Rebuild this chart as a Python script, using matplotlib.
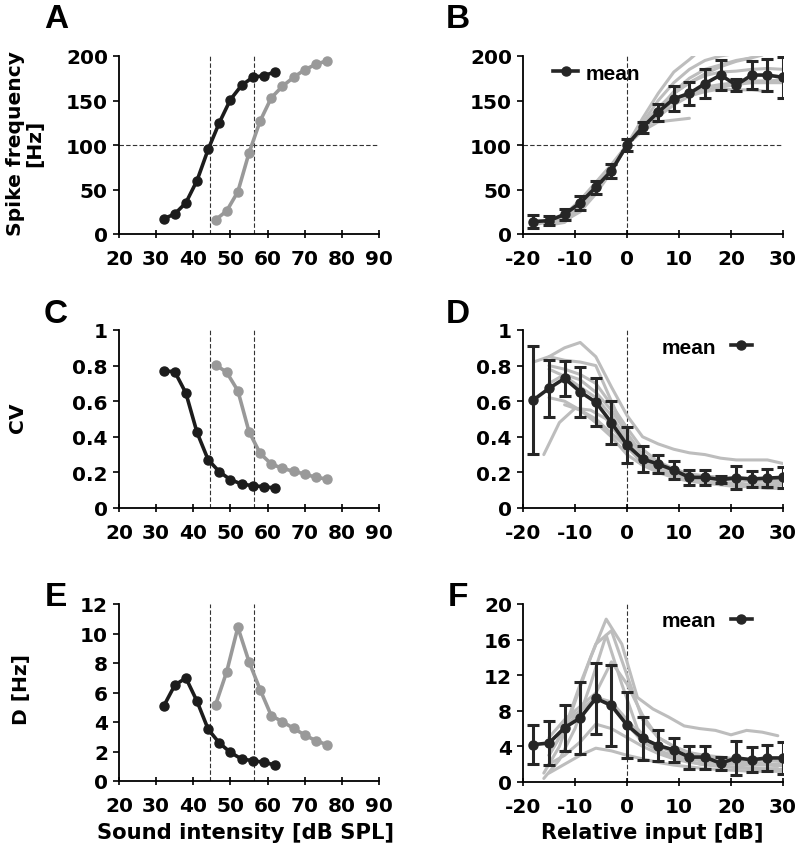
import matplotlib
matplotlib.use("Agg")
import matplotlib.pyplot as plt
from matplotlib.lines import Line2D

plt.rcParams['font.family'] = ['DejaVu Sans']
plt.rcParams['font.weight'] = 'bold'
plt.rcParams['axes.unicode_minus'] = False

# ---------------- data ----------------
sound_black = [32, 35, 38, 41, 44, 47, 50, 53, 56, 59, 62]
sound_gray = [46, 49, 52, 55, 58, 61, 64, 67, 70, 73, 76]

freq_black = [17, 22.5, 35, 60, 95, 125, 151, 167, 176, 178, 182]
freq_gray = [16, 26, 47.5, 91, 127, 153, 166, 176, 184.6, 190.6, 194.7]

cv_black = [0.77, 0.766, 0.646, 0.425, 0.271, 0.204, 0.159, 0.135, 0.125, 0.12, 0.112]
cv_gray = [0.805, 0.762, 0.659, 0.429, 0.307, 0.247, 0.223, 0.206, 0.191, 0.172, 0.163]

d_black = [5.06, 6.49, 6.99, 5.41, 3.51, 2.58, 1.94, 1.49, 1.38, 1.27, 1.08]
d_gray = [5.17, 7.41, 10.42, 8.09, 6.19, 4.43, 4.02, 3.57, 3.12, 2.73, 2.46]

thresholds = [44.4, 56.3]

rel_x = [-18, -15, -12, -9, -6, -3, 0, 3, 6, 9, 12, 15, 18, 21, 24, 27, 30]
freq_mean = [14, 15, 22, 35, 52.5, 71, 100, 120, 137, 152, 158, 169, 178.6, 167.4, 178.6, 178.6, 176]
freq_err = [7, 5, 6, 8, 7, 8, 7, 6, 9.5, 14, 13, 16, 17, 7, 16, 17.5, 23]

cv_mean = [0.607, 0.672, 0.728, 0.653, 0.594, 0.48, 0.354, 0.275, 0.247, 0.213, 0.172, 0.172, 0.159, 0.17, 0.163, 0.168, 0.172]
cv_err = [0.305, 0.16, 0.1, 0.14, 0.135, 0.12, 0.1, 0.075, 0.05, 0.05, 0.04, 0.04, 0.02, 0.065, 0.045, 0.05, 0.06]

d_mean = [4.2, 4.38, 6.1, 7.2, 9.4, 8.6, 6.4, 4.9, 4.1, 3.6, 2.8, 2.8, 2.1, 2.7, 2.5, 2.7, 2.7]
d_err = [2.2, 2.5, 2.6, 4.0, 4.0, 4.5, 3.7, 2.45, 1.7, 1.4, 1.3, 1.3, 0.7, 1.9, 1.4, 1.5, 1.8]

# individual neurons (relative input)
freq_ind_x = [
    [-15, -12, -9, -6, -3, 0, 3, 6, 9, 12, 13],
    [-15, -12, -9, -6, -3, 0, 3, 6, 9, 12],
    [-18, -15, -12, -9, -6, -3, 0, 3, 6, 9, 12, 15, 18, 22],
    [-12, -9, -6, -3, 0, 3, 6, 9, 12, 15, 18, 21, 24, 26],
    [-15, -12, -9, -6, -3, 0, 3, 6, 9, 12, 15, 18, 21, 24, 27, 30],
    [-18, -15, -12, -9, -6, -3, 0, 3, 6, 9, 12, 15, 18, 21, 24, 27, 30],
    [-15, -12, -9, -6, -3, 0, 3, 6, 9, 12, 15, 18, 21, 24, 27],
    [-12, -9, -6, -3, 0, 3, 6, 9, 12, 15, 18, 21, 24, 27, 30],
    [-15, -12, -9, -6, -3, 0, 3, 6, 9, 12, 15, 18, 21, 24],
]
freq_ind_y = [
    [12, 15, 25, 45, 70, 100, 130, 158, 182, 196, 201],
    [12, 16, 30, 52, 73, 100, 116, 126, 128, 130],
    [10, 14, 20, 35, 55, 75, 100, 125, 150, 170, 185, 195, 200, 204],
    [18, 38, 58, 78, 100, 122, 142, 158, 170, 180, 188, 194, 198, 201],
    [14, 20, 35, 55, 72, 100, 118, 135, 150, 160, 165, 168, 170, 172, 172, 173],
    [12, 14, 18, 30, 50, 70, 100, 120, 138, 150, 158, 162, 165, 168, 170, 170, 170],
    [10, 13, 28, 50, 70, 100, 118, 132, 145, 155, 160, 163, 162, 162, 160],
    [15, 28, 48, 72, 100, 122, 140, 158, 170, 178, 182, 183, 185, 186, 185],
    [16, 22, 38, 55, 75, 100, 120, 140, 160, 175, 185, 190, 195, 198],
]

cv_ind_x = [
    [-18, -15, -12, -9, -6, -3, 0, 3, 6, 9, 12, 15, 18, 21, 24, 27, 30],
    [-15, -12, -9, -6, -3, 0, 3, 6, 9, 12, 15, 18, 21, 24, 27, 30],
    [-16, -13, -10, -7, -4, -1, 2, 5, 8, 11, 14, 17, 20, 23, 26, 29],
    [-15, -12, -9, -6, -3, 0, 3, 6, 9, 12, 15, 18, 21, 24, 27, 30],
    [-15, -12, -9, -6, -3, 0, 3, 6, 9, 12, 15, 18, 21, 24, 27, 30],
    [-15, -12, -9, -6, -3, 0, 3, 6, 9, 12, 15, 18, 21, 24, 27, 30],
    [-12, -9, -6, -3, 0, 3, 6, 9, 12, 15, 18, 21, 24, 27, 30],
    [-15, -12, -9, -6, -3, 0, 3, 6, 9, 12, 15, 18, 21, 24, 27, 30],
]
cv_ind_y = [
    [0.82, 0.85, 0.90, 0.93, 0.85, 0.68, 0.52, 0.40, 0.36, 0.33, 0.31, 0.30, 0.28, 0.27, 0.27, 0.27, 0.25],
    [0.85, 0.83, 0.82, 0.80, 0.60, 0.40, 0.30, 0.25, 0.21, 0.19, 0.18, 0.17, 0.17, 0.16, 0.16, 0.15],
    [0.30, 0.48, 0.56, 0.55, 0.50, 0.38, 0.28, 0.22, 0.19, 0.16, 0.15, 0.14, 0.13, 0.13, 0.12, 0.12],
    [0.78, 0.74, 0.68, 0.62, 0.52, 0.38, 0.27, 0.22, 0.19, 0.16, 0.15, 0.14, 0.14, 0.13, 0.13, 0.13],
    [0.70, 0.75, 0.72, 0.65, 0.55, 0.42, 0.30, 0.24, 0.20, 0.18, 0.17, 0.16, 0.16, 0.15, 0.15, 0.14],
    [0.62, 0.60, 0.55, 0.48, 0.40, 0.30, 0.24, 0.20, 0.17, 0.15, 0.14, 0.13, 0.12, 0.12, 0.11, 0.11],
    [0.58, 0.55, 0.50, 0.42, 0.34, 0.26, 0.21, 0.18, 0.16, 0.15, 0.14, 0.14, 0.13, 0.13, 0.13],
    [0.80, 0.78, 0.75, 0.70, 0.58, 0.45, 0.33, 0.26, 0.22, 0.19, 0.18, 0.17, 0.17, 0.16, 0.16, 0.16],
]

d_ind_x = [
    [-16, -13, -10, -7, -4, -1, 2, 5, 8, 11, 14, 17, 20, 23, 26, 29],
    [-15, -12, -9, -6, -3, 0, 3, 6, 9, 12, 15, 18, 21, 24, 27, 30],
    [-16, -13, -10, -7, -4, -1, 2, 5, 8, 11, 14, 17, 20, 23, 26, 29],
    [-15, -12, -9, -6, -3, 0, 3, 6, 9, 12, 15, 18, 21, 24, 27, 30],
    [-15, -12, -9, -6, -3, 0, 3, 6, 9, 12, 15, 18, 21, 24, 27, 30],
    [-15, -12, -9, -6, -3, 0, 3, 6, 9, 12, 15, 18, 21, 24, 27, 30],
    [-15, -12, -9, -6, -3, 0, 3, 6, 9, 12, 15, 18, 21, 24, 27, 30],
    [-12, -9, -6, -3, 0, 3, 6, 9, 12, 15, 18, 21, 24, 27, 30],
]
d_ind_y = [
    [1.0, 4.0, 9.0, 14.0, 18.3, 15.5, 9.5, 8.2, 7.3, 6.3, 6.0, 5.8, 5.3, 5.8, 5.6, 5.2],
    [3.0, 6.0, 11.0, 15.5, 17.0, 12.0, 7.0, 5.0, 4.0, 3.2, 2.8, 2.5, 2.3, 2.2, 2.0, 2.0],
    [0.4, 2.5, 6.0, 11.0, 16.5, 11.0, 6.0, 4.0, 3.0, 2.5, 2.0, 1.8, 1.7, 1.6, 1.5, 1.5],
    [5.0, 7.0, 8.5, 10.0, 13.5, 11.0, 7.5, 5.0, 4.0, 3.3, 3.0, 2.8, 2.6, 2.5, 2.4, 2.3],
    [3.0, 6.0, 8.0, 9.5, 9.0, 7.0, 5.0, 4.0, 3.3, 2.8, 2.5, 2.3, 2.1, 2.0, 2.0, 1.9],
    [2.0, 3.0, 4.5, 6.5, 6.0, 5.0, 4.0, 3.2, 2.6, 2.2, 2.0, 1.8, 1.6, 1.5, 1.4, 1.4],
    [1.0, 2.0, 3.0, 3.8, 3.5, 3.0, 2.6, 2.2, 1.9, 1.7, 1.5, 1.4, 1.3, 1.2, 1.2, 1.2],
    [6.8, 8.0, 9.5, 8.5, 6.5, 4.5, 3.5, 3.0, 2.6, 2.3, 2.1, 2.0, 1.9, 1.9, 1.8],
]

# ---------------- style ----------------
BLACK = '#1c1c1c'
GRAY = '#999999'
LIGHT = '#bdbdbd'
MEAN = '#262626'
FS = 14.5

W, H = 797, 853
fig = plt.figure(figsize=(W / 100, H / 100), dpi=100)


def ax_at(l, t, r, b):
    return fig.add_axes([l / W, 1 - b / H, (r - l) / W, (b - t) / H])


def style(ax, xlim, xticks, ylim, yticks, yticklabels=None):
    ax.set_xlim(*xlim)
    ax.set_ylim(*ylim)
    ax.set_xticks(xticks)
    ax.set_yticks(yticks)
    if yticklabels is not None:
        ax.set_yticklabels(yticklabels)
    for s in ['top', 'right']:
        ax.spines[s].set_visible(False)
    for s in ['left', 'bottom']:
        ax.spines[s].set_linewidth(1.3)
        ax.spines[s].set_color('black')
    ax.tick_params(axis='x', direction='inout', length=6, width=1.2, labelsize=FS, pad=8)
    ax.tick_params(axis='y', direction='out', length=4, width=1.2, labelsize=FS, pad=4)
    for lab in ax.get_xticklabels() + ax.get_yticklabels():
        lab.set_fontweight('bold')
    ax.patch.set_alpha(0)


dash = dict(color='#333333', lw=0.8, ls=(0, (4, 2)), zorder=1)
curve = dict(lw=2.6, marker='o', ms=6.5, zorder=3)

axA = ax_at(119, 57, 379, 235)
axC = ax_at(119, 331, 379, 509)
axE = ax_at(119, 605, 379, 782)
axB = ax_at(523, 57, 783, 235)
axD = ax_at(523, 331, 783, 509)
axF = ax_at(523, 605, 783, 783)

# A
for t in thresholds:
    axA.plot([t, t], [0, 200], **dash)
axA.plot([20, 90], [100, 100], **dash)
axA.plot(sound_black, freq_black, color=BLACK, **curve)
axA.plot(sound_gray, freq_gray, color=GRAY, **curve)
style(axA, (20, 90), range(20, 91, 10), (0, 200), range(0, 201, 50))

# C
for t in thresholds:
    axC.plot([t, t], [0, 1], **dash)
axC.plot(sound_black, cv_black, color=BLACK, **curve)
axC.plot(sound_gray, cv_gray, color=GRAY, **curve)
style(axC, (20, 90), range(20, 91, 10), (0, 1), [0, 0.2, 0.4, 0.6, 0.8, 1],
      ['0', '0.2', '0.4', '0.6', '0.8', '1'])

# E
for t in thresholds:
    axE.plot([t, t], [0, 12], **dash)
axE.plot(sound_black, d_black, color=BLACK, **curve)
axE.plot(sound_gray, d_gray, color=GRAY, **curve)
style(axE, (20, 90), range(20, 91, 10), (0, 12), range(0, 13, 2))

eb = dict(color=MEAN, lw=2.6, marker='o', ms=6.5, elinewidth=2.2, capsize=4.5,
          capthick=2.2, zorder=4)

# B
axB.plot([0, 0], [0, 200], **dash)
axB.plot([-20, 30], [100, 100], **dash)
for xs, ys in zip(freq_ind_x, freq_ind_y):
    axB.plot(xs, ys, color=LIGHT, lw=2.2, zorder=2, solid_capstyle='round')
axB.errorbar(rel_x, freq_mean, yerr=freq_err, **eb)
style(axB, (-20, 30), range(-20, 31, 10), (0, 200), range(0, 201, 50))

# D
axD.plot([0, 0], [0, 1], **dash)
for xs, ys in zip(cv_ind_x, cv_ind_y):
    axD.plot(xs, ys, color=LIGHT, lw=2.2, zorder=2, solid_capstyle='round')
axD.errorbar(rel_x, cv_mean, yerr=cv_err, **eb)
style(axD, (-20, 30), range(-20, 31, 10), (0, 1), [0, 0.2, 0.4, 0.6, 0.8, 1],
      ['0', '0.2', '0.4', '0.6', '0.8', '1'])

# F
axF.plot([0, 0], [0, 20], **dash)
for xs, ys in zip(d_ind_x, d_ind_y):
    axF.plot(xs, ys, color=LIGHT, lw=2.2, zorder=2, solid_capstyle='round')
axF.errorbar(rel_x, d_mean, yerr=d_err, **eb)
style(axF, (-20, 30), range(-20, 31, 10), (0, 20), range(0, 21, 4))

# legends
handle = Line2D([], [], color=MEAN, lw=2.6, marker='o', ms=6.5)
prop = {'family': 'Liberation Sans', 'weight': 'bold', 'size': 15}
axB.legend([handle], ['mean'], loc='center left', frameon=False, handlelength=1.2,
           handletextpad=0.35, borderaxespad=0.0, prop=prop,
           bbox_to_anchor=((545 - 523) / 260, (235 - 74) / 178))
for ax, yc in [(axD, (509 - 348) / 178), (axF, (783 - 622) / 178)]:
    ax.legend([handle], ['mean'], loc='center right', frameon=False, handlelength=1.0,
              handletextpad=0.7, borderaxespad=0.0, prop=prop, markerfirst=False,
              bbox_to_anchor=((760 - 523) / 260, yc))

# axis labels
lab_fs = 14.6
fig.text(25 / W, 1 - 143 / H, 'Spike frequency\n[Hz]', rotation=90, ha='center', va='center',
         fontsize=lab_fs, fontweight='bold', linespacing=1.0)
fig.text(18 / W, 1 - 418 / H, 'CV', rotation=90, ha='center', va='center',
         fontsize=lab_fs, fontweight='bold')
fig.text(21 / W, 1 - 690 / H, 'D [Hz]', rotation=90, ha='center', va='center',
         fontsize=lab_fs, fontweight='bold')
fig.text(246 / W, 1 - 833 / H, 'Sound intensity [dB SPL]', ha='center', va='center',
         fontsize=15.2, fontweight='bold')
fig.text(652 / W, 1 - 833 / H, 'Relative input [dB]', ha='center', va='center',
         fontsize=15.0, fontweight='bold')

# panel letters
for lab, x, y in [('A', 56, 20), ('B', 458, 20), ('C', 56, 315), ('D', 458, 315),
                  ('E', 56, 597), ('F', 458, 597)]:
    fig.text(x / W, 1 - y / H, lab, ha='center', va='center', fontsize=24,
             fontweight='bold', family='Liberation Sans')

fig.savefig('out.png', dpi=100)
